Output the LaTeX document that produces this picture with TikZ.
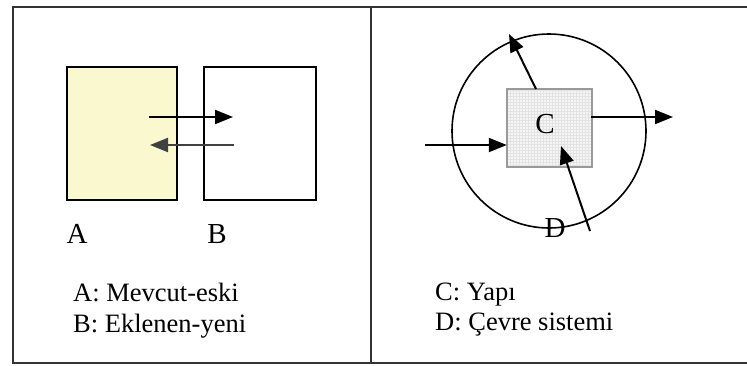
\documentclass[tikz,border=0pt]{standalone}
\usepackage{fontspec}
\setmainfont{Liberation Serif}
\usetikzlibrary{arrows.meta}
\definecolor{oldyellow}{RGB}{250,248,206}
\definecolor{framecol}{RGB}{50,50,50}
\begin{document}
\begin{tikzpicture}[x=1pt,y=-1pt,
  framestyle/.style={draw=framecol,line width=2pt},
  boxstyle/.style={draw=black,line width=1.5pt,inner sep=0pt},
  arr/.style={line width=2pt,-{Triangle[length=18pt,width=14pt]}},
  biglabel/.style={font=\fontsize{29}{32}\selectfont,inner sep=0pt,anchor=base},
  legend/.style={font=\fontsize{26.5}{30}\selectfont,inner sep=0pt,anchor=base west}]
\useasboundingbox (0,0) rectangle (747,365);
\fill[white] (0,0) rectangle (747,365);
% frame
\coordinate (f1) at (13,6.5);
\coordinate (f2) at (747,6.5);
\coordinate (f3) at (13,363);
\coordinate (f4) at (747,363);
\coordinate (f5) at (371,6.5);
\coordinate (f6) at (371,363);
\draw[framestyle] (f2) -- (f1) -- (f3) -- (f4);
\draw[framestyle] (f5) -- (f6);
% left panel
\node[boxstyle,fill=oldyellow,minimum width=110pt,minimum height=133pt] (A) at (122,133.5) {};
\node[boxstyle,minimum width=112pt,minimum height=133pt] (B) at (260,133.5) {};
\coordinate (r1) at (149,117);
\coordinate (r2) at (233,117);
\coordinate (l1) at (234,145);
\coordinate (l2) at (150,145);
\draw[arr] (r1) -- (r2);
\draw[arr,draw=black!75] (l1) -- (l2);
\node[biglabel] (la) at (77,243) {A};
\node[biglabel] (lb) at (217,243) {B};
\node[legend] (ta) at (73,301) {A: Mevcut-eski};
\node[legend] (tb) at (73,332) {B: Eklenen-yeni};
% right panel
\node[draw=black,line width=1.6pt,circle,minimum size=194pt,inner sep=0pt] (D) at (549,131) {};
\node[fill=black!4,minimum width=85pt,minimum height=78pt,inner sep=0pt] (C) at (549.5,128) {};
\begin{scope}
\clip (C.south west) rectangle (C.north east);
\draw[black!11,line width=0.4pt,step=3pt] (C.south west) grid (C.north east);
\end{scope}
\node[draw=black!40,line width=1.2pt,minimum width=85pt,minimum height=78pt,inner sep=0pt] at (C) {};
\node[biglabel] (lc) at (545,133) {C};
\coordinate (in1) at (425,145);
\coordinate (in2) at (C.west |- in1);
\draw[arr] (in1) -- (in2);
\coordinate (o1) at (591,117);
\coordinate (o2) at (673,117);
\draw[arr] (o1) -- (o2);
\coordinate (u1) at (536,89);
\coordinate (u2) at (509,34);
\draw[arr] (u1) -- (u2);
\coordinate (b1) at (590,231);
\coordinate (b2) at (561,146);
\draw[arr] (b1) -- (b2);
\node[biglabel] (ld) at (555,237) {D};
\node[legend] (tc) at (435,300) {C: Yapı};
\node[legend] (td) at (435,330) {D: Çevre sistemi};
\end{tikzpicture}
\end{document}
